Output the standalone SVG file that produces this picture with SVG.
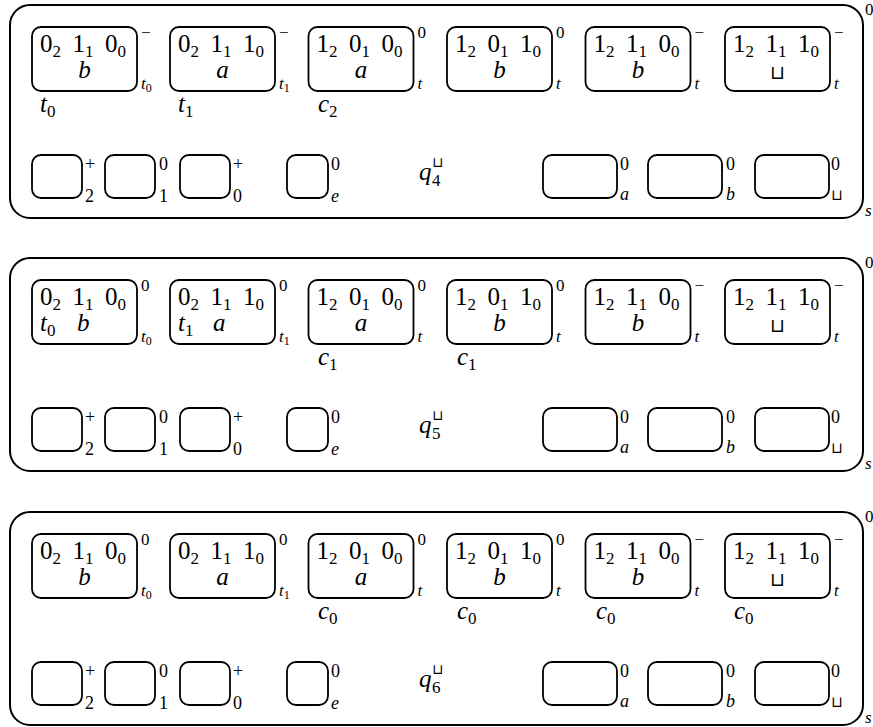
<svg xmlns="http://www.w3.org/2000/svg" width="873" height="727" viewBox="0 0 873 727">
<rect width="873" height="727" fill="#fff"/>
<defs>
<rect id="big" width="105" height="64" rx="9" fill="none" stroke="#000" stroke-width="1.8"/>
<rect id="sm" width="50" height="43" rx="9" fill="none" stroke="#000" stroke-width="1.8"/>
<rect id="sme" width="41" height="43" rx="9" fill="none" stroke="#000" stroke-width="1.8"/>
<rect id="smw" width="74" height="43" rx="9" fill="none" stroke="#000" stroke-width="1.8"/>
<rect id="outer" x="10" y="5" width="853" height="213" rx="20" fill="none" stroke="#000" stroke-width="2"/>
</defs>

<!-- ===================== PANEL 1 ===================== -->
<g id="panel1">
<use href="#outer"/>
<text font-family="Times New Roman" font-size="17" x="865" y="15">0</text>
<text font-family="Times New Roman" font-size="17" font-style="italic" x="865" y="216">s</text>

<g id="p1b1"><use href="#big" x="32" y="27"/>
<text font-family="Times New Roman" font-size="25" y="52"><tspan x="40">0</tspan><tspan font-size="17" dy="5">2</tspan><tspan x="72.5" dy="-5">1</tspan><tspan font-size="17" dy="5">1</tspan><tspan x="105" dy="-5">0</tspan><tspan font-size="17" dy="5">0</tspan></text>
<text font-family="Times New Roman" font-size="25" font-style="italic" x="84.5" y="78" text-anchor="middle">b</text>
<text font-family="Times New Roman" font-size="17" x="141" y="38">−</text>
<text font-family="Times New Roman" font-size="17" font-style="italic" x="141" y="89">t<tspan font-size="12" font-style="normal" dy="3">0</tspan></text>
<text font-family="Times New Roman" font-size="25" font-style="italic" x="40" y="112">t<tspan font-size="17" font-style="normal" dy="5">0</tspan></text></g>

<g id="p1b2"><use href="#big" x="170" y="27"/>
<text font-family="Times New Roman" font-size="25" y="52"><tspan x="178">0</tspan><tspan font-size="17" dy="5">2</tspan><tspan x="210.5" dy="-5">1</tspan><tspan font-size="17" dy="5">1</tspan><tspan x="243" dy="-5">1</tspan><tspan font-size="17" dy="5">0</tspan></text>
<text font-family="Times New Roman" font-size="25" font-style="italic" x="222.5" y="78" text-anchor="middle">a</text>
<text font-family="Times New Roman" font-size="17" x="279" y="38">−</text>
<text font-family="Times New Roman" font-size="17" font-style="italic" x="279" y="89">t<tspan font-size="12" font-style="normal" dy="3">1</tspan></text>
<text font-family="Times New Roman" font-size="25" font-style="italic" x="178" y="112">t<tspan font-size="17" font-style="normal" dy="5">1</tspan></text></g>

<g id="p1b3"><use href="#big" x="308.5" y="27"/>
<text font-family="Times New Roman" font-size="25" y="52"><tspan x="316.5">1</tspan><tspan font-size="17" dy="5">2</tspan><tspan x="349" dy="-5">0</tspan><tspan font-size="17" dy="5">1</tspan><tspan x="381.5" dy="-5">0</tspan><tspan font-size="17" dy="5">0</tspan></text>
<text font-family="Times New Roman" font-size="25" font-style="italic" x="361" y="78" text-anchor="middle">a</text>
<text font-family="Times New Roman" font-size="17" x="417.5" y="38">0</text>
<text font-family="Times New Roman" font-size="17" font-style="italic" x="417.5" y="89">t</text>
<text font-family="Times New Roman" font-size="25" font-style="italic" x="318" y="112">c<tspan font-size="17" font-style="normal" dy="5">2</tspan></text></g>

<g id="p1b4"><use href="#big" x="447" y="27"/>
<text font-family="Times New Roman" font-size="25" y="52"><tspan x="455">1</tspan><tspan font-size="17" dy="5">2</tspan><tspan x="487.5" dy="-5">0</tspan><tspan font-size="17" dy="5">1</tspan><tspan x="520" dy="-5">1</tspan><tspan font-size="17" dy="5">0</tspan></text>
<text font-family="Times New Roman" font-size="25" font-style="italic" x="499.5" y="78" text-anchor="middle">b</text>
<text font-family="Times New Roman" font-size="17" x="556" y="38">0</text>
<text font-family="Times New Roman" font-size="17" font-style="italic" x="556" y="89">t</text></g>

<g id="p1b5"><use href="#big" x="585.5" y="27"/>
<text font-family="Times New Roman" font-size="25" y="52"><tspan x="593.5">1</tspan><tspan font-size="17" dy="5">2</tspan><tspan x="626" dy="-5">1</tspan><tspan font-size="17" dy="5">1</tspan><tspan x="658.5" dy="-5">0</tspan><tspan font-size="17" dy="5">0</tspan></text>
<text font-family="Times New Roman" font-size="25" font-style="italic" x="638" y="78" text-anchor="middle">b</text>
<text font-family="Times New Roman" font-size="17" x="694.5" y="38">−</text>
<text font-family="Times New Roman" font-size="17" font-style="italic" x="694.5" y="89">t</text></g>

<g id="p1b6"><use href="#big" x="725" y="27"/>
<text font-family="Times New Roman" font-size="25" y="52"><tspan x="733">1</tspan><tspan font-size="17" dy="5">2</tspan><tspan x="765.5" dy="-5">1</tspan><tspan font-size="17" dy="5">1</tspan><tspan x="798" dy="-5">1</tspan><tspan font-size="17" dy="5">0</tspan></text>
<text font-family="DejaVu Sans" font-size="19" x="777.5" y="79" text-anchor="middle">⊔</text>
<text font-family="Times New Roman" font-size="17" x="834" y="38">−</text>
<text font-family="Times New Roman" font-size="17" font-style="italic" x="834" y="89">t</text></g>

<g id="p1r"><use href="#sm" x="32" y="155"/><text font-family="Times New Roman" font-size="18" x="85" y="170">+</text><text font-family="Times New Roman" font-size="18" x="85" y="202">2</text>
<use href="#sm" x="105" y="155"/><text font-family="Times New Roman" font-size="18" x="159" y="170">0</text><text font-family="Times New Roman" font-size="18" x="159" y="202">1</text>
<use href="#sm" x="180" y="155"/><text font-family="Times New Roman" font-size="18" x="233" y="170">+</text><text font-family="Times New Roman" font-size="18" x="233" y="202">0</text>
<use href="#sme" x="287" y="155"/><text font-family="Times New Roman" font-size="18" x="331" y="170">0</text><text font-family="Times New Roman" font-size="18" font-style="italic" x="331" y="202">e</text>
<text font-family="Times New Roman" font-size="25" font-style="italic" x="419" y="180">q</text><text font-family="DejaVu Sans" font-size="14" x="432" y="167">⊔</text><text font-family="Times New Roman" font-size="17" x="432" y="186">4</text>
<use href="#smw" x="543" y="155"/><text font-family="Times New Roman" font-size="18" x="620" y="170">0</text><text font-family="Times New Roman" font-size="18" font-style="italic" x="620" y="200">a</text>
<use href="#smw" x="648" y="155"/><text font-family="Times New Roman" font-size="18" x="726" y="170">0</text><text font-family="Times New Roman" font-size="18" font-style="italic" x="726" y="200">b</text>
<use href="#smw" x="755" y="155"/><text font-family="Times New Roman" font-size="18" x="831" y="170">0</text><text font-family="DejaVu Sans" font-size="15" x="831" y="200">⊔</text></g>
</g>

<!-- ===================== PANEL 2 ===================== -->
<g id="panel2" transform="translate(0,253)">
<use href="#outer"/>
<text font-family="Times New Roman" font-size="17" x="865" y="15">0</text>
<text font-family="Times New Roman" font-size="17" font-style="italic" x="865" y="216">s</text>

<g id="p2b1"><use href="#big" x="32" y="27"/>
<text font-family="Times New Roman" font-size="25" y="52"><tspan x="40">0</tspan><tspan font-size="17" dy="5">2</tspan><tspan x="72.5" dy="-5">1</tspan><tspan font-size="17" dy="5">1</tspan><tspan x="105" dy="-5">0</tspan><tspan font-size="17" dy="5">0</tspan></text>
<text font-family="Times New Roman" font-size="25" font-style="italic" x="40" y="78">t<tspan font-size="17" font-style="normal" dy="5">0</tspan></text>
<text font-family="Times New Roman" font-size="25" font-style="italic" x="77" y="78">b</text>
<text font-family="Times New Roman" font-size="17" x="141" y="38">0</text>
<text font-family="Times New Roman" font-size="17" font-style="italic" x="141" y="89">t<tspan font-size="12" font-style="normal" dy="3">0</tspan></text></g>

<g id="p2b2"><use href="#big" x="170" y="27"/>
<text font-family="Times New Roman" font-size="25" y="52"><tspan x="178">0</tspan><tspan font-size="17" dy="5">2</tspan><tspan x="210.5" dy="-5">1</tspan><tspan font-size="17" dy="5">1</tspan><tspan x="243" dy="-5">1</tspan><tspan font-size="17" dy="5">0</tspan></text>
<text font-family="Times New Roman" font-size="25" font-style="italic" x="178" y="78">t<tspan font-size="17" font-style="normal" dy="5">1</tspan></text>
<text font-family="Times New Roman" font-size="25" font-style="italic" x="213" y="78">a</text>
<text font-family="Times New Roman" font-size="17" x="279" y="38">0</text>
<text font-family="Times New Roman" font-size="17" font-style="italic" x="279" y="89">t<tspan font-size="12" font-style="normal" dy="3">1</tspan></text></g>

<g id="p2b3"><use href="#big" x="308.5" y="27"/>
<text font-family="Times New Roman" font-size="25" y="52"><tspan x="316.5">1</tspan><tspan font-size="17" dy="5">2</tspan><tspan x="349" dy="-5">0</tspan><tspan font-size="17" dy="5">1</tspan><tspan x="381.5" dy="-5">0</tspan><tspan font-size="17" dy="5">0</tspan></text>
<text font-family="Times New Roman" font-size="25" font-style="italic" x="361" y="78" text-anchor="middle">a</text>
<text font-family="Times New Roman" font-size="17" x="417.5" y="38">0</text>
<text font-family="Times New Roman" font-size="17" font-style="italic" x="417.5" y="89">t</text>
<text font-family="Times New Roman" font-size="25" font-style="italic" x="318" y="112">c<tspan font-size="17" font-style="normal" dy="5">1</tspan></text></g>

<g id="p2b4"><use href="#big" x="447" y="27"/>
<text font-family="Times New Roman" font-size="25" y="52"><tspan x="455">1</tspan><tspan font-size="17" dy="5">2</tspan><tspan x="487.5" dy="-5">0</tspan><tspan font-size="17" dy="5">1</tspan><tspan x="520" dy="-5">1</tspan><tspan font-size="17" dy="5">0</tspan></text>
<text font-family="Times New Roman" font-size="25" font-style="italic" x="499.5" y="78" text-anchor="middle">b</text>
<text font-family="Times New Roman" font-size="17" x="556" y="38">0</text>
<text font-family="Times New Roman" font-size="17" font-style="italic" x="556" y="89">t</text>
<text font-family="Times New Roman" font-size="25" font-style="italic" x="457" y="112">c<tspan font-size="17" font-style="normal" dy="5">1</tspan></text></g>

<g id="p2b5"><use href="#big" x="585.5" y="27"/>
<text font-family="Times New Roman" font-size="25" y="52"><tspan x="593.5">1</tspan><tspan font-size="17" dy="5">2</tspan><tspan x="626" dy="-5">1</tspan><tspan font-size="17" dy="5">1</tspan><tspan x="658.5" dy="-5">0</tspan><tspan font-size="17" dy="5">0</tspan></text>
<text font-family="Times New Roman" font-size="25" font-style="italic" x="638" y="78" text-anchor="middle">b</text>
<text font-family="Times New Roman" font-size="17" x="694.5" y="38">−</text>
<text font-family="Times New Roman" font-size="17" font-style="italic" x="694.5" y="89">t</text></g>

<g id="p2b6"><use href="#big" x="725" y="27"/>
<text font-family="Times New Roman" font-size="25" y="52"><tspan x="733">1</tspan><tspan font-size="17" dy="5">2</tspan><tspan x="765.5" dy="-5">1</tspan><tspan font-size="17" dy="5">1</tspan><tspan x="798" dy="-5">1</tspan><tspan font-size="17" dy="5">0</tspan></text>
<text font-family="DejaVu Sans" font-size="19" x="777.5" y="79" text-anchor="middle">⊔</text>
<text font-family="Times New Roman" font-size="17" x="834" y="38">−</text>
<text font-family="Times New Roman" font-size="17" font-style="italic" x="834" y="89">t</text></g>

<g id="p2r"><use href="#sm" x="32" y="155"/><text font-family="Times New Roman" font-size="18" x="85" y="170">+</text><text font-family="Times New Roman" font-size="18" x="85" y="202">2</text>
<use href="#sm" x="105" y="155"/><text font-family="Times New Roman" font-size="18" x="159" y="170">0</text><text font-family="Times New Roman" font-size="18" x="159" y="202">1</text>
<use href="#sm" x="180" y="155"/><text font-family="Times New Roman" font-size="18" x="233" y="170">+</text><text font-family="Times New Roman" font-size="18" x="233" y="202">0</text>
<use href="#sme" x="287" y="155"/><text font-family="Times New Roman" font-size="18" x="331" y="170">0</text><text font-family="Times New Roman" font-size="18" font-style="italic" x="331" y="202">e</text>
<text font-family="Times New Roman" font-size="25" font-style="italic" x="419" y="180">q</text><text font-family="DejaVu Sans" font-size="14" x="432" y="167">⊔</text><text font-family="Times New Roman" font-size="17" x="432" y="186">5</text>
<use href="#smw" x="543" y="155"/><text font-family="Times New Roman" font-size="18" x="620" y="170">0</text><text font-family="Times New Roman" font-size="18" font-style="italic" x="620" y="200">a</text>
<use href="#smw" x="648" y="155"/><text font-family="Times New Roman" font-size="18" x="726" y="170">0</text><text font-family="Times New Roman" font-size="18" font-style="italic" x="726" y="200">b</text>
<use href="#smw" x="755" y="155"/><text font-family="Times New Roman" font-size="18" x="831" y="170">0</text><text font-family="DejaVu Sans" font-size="15" x="831" y="200">⊔</text></g>
</g>

<!-- ===================== PANEL 3 ===================== -->
<g id="panel3" transform="translate(0,507)">
<use href="#outer"/>
<text font-family="Times New Roman" font-size="17" x="865" y="15">0</text>
<text font-family="Times New Roman" font-size="17" font-style="italic" x="865" y="216">s</text>

<g id="p3b1"><use href="#big" x="32" y="27"/>
<text font-family="Times New Roman" font-size="25" y="52"><tspan x="40">0</tspan><tspan font-size="17" dy="5">2</tspan><tspan x="72.5" dy="-5">1</tspan><tspan font-size="17" dy="5">1</tspan><tspan x="105" dy="-5">0</tspan><tspan font-size="17" dy="5">0</tspan></text>
<text font-family="Times New Roman" font-size="25" font-style="italic" x="84.5" y="78" text-anchor="middle">b</text>
<text font-family="Times New Roman" font-size="17" x="141" y="38">0</text>
<text font-family="Times New Roman" font-size="17" font-style="italic" x="141" y="89">t<tspan font-size="12" font-style="normal" dy="3">0</tspan></text></g>

<g id="p3b2"><use href="#big" x="170" y="27"/>
<text font-family="Times New Roman" font-size="25" y="52"><tspan x="178">0</tspan><tspan font-size="17" dy="5">2</tspan><tspan x="210.5" dy="-5">1</tspan><tspan font-size="17" dy="5">1</tspan><tspan x="243" dy="-5">1</tspan><tspan font-size="17" dy="5">0</tspan></text>
<text font-family="Times New Roman" font-size="25" font-style="italic" x="222.5" y="78" text-anchor="middle">a</text>
<text font-family="Times New Roman" font-size="17" x="279" y="38">0</text>
<text font-family="Times New Roman" font-size="17" font-style="italic" x="279" y="89">t<tspan font-size="12" font-style="normal" dy="3">1</tspan></text></g>

<g id="p3b3"><use href="#big" x="308.5" y="27"/>
<text font-family="Times New Roman" font-size="25" y="52"><tspan x="316.5">1</tspan><tspan font-size="17" dy="5">2</tspan><tspan x="349" dy="-5">0</tspan><tspan font-size="17" dy="5">1</tspan><tspan x="381.5" dy="-5">0</tspan><tspan font-size="17" dy="5">0</tspan></text>
<text font-family="Times New Roman" font-size="25" font-style="italic" x="361" y="78" text-anchor="middle">a</text>
<text font-family="Times New Roman" font-size="17" x="417.5" y="38">0</text>
<text font-family="Times New Roman" font-size="17" font-style="italic" x="417.5" y="89">t</text>
<text font-family="Times New Roman" font-size="25" font-style="italic" x="318" y="112">c<tspan font-size="17" font-style="normal" dy="5">0</tspan></text></g>

<g id="p3b4"><use href="#big" x="447" y="27"/>
<text font-family="Times New Roman" font-size="25" y="52"><tspan x="455">1</tspan><tspan font-size="17" dy="5">2</tspan><tspan x="487.5" dy="-5">0</tspan><tspan font-size="17" dy="5">1</tspan><tspan x="520" dy="-5">1</tspan><tspan font-size="17" dy="5">0</tspan></text>
<text font-family="Times New Roman" font-size="25" font-style="italic" x="499.5" y="78" text-anchor="middle">b</text>
<text font-family="Times New Roman" font-size="17" x="556" y="38">0</text>
<text font-family="Times New Roman" font-size="17" font-style="italic" x="556" y="89">t</text>
<text font-family="Times New Roman" font-size="25" font-style="italic" x="457" y="112">c<tspan font-size="17" font-style="normal" dy="5">0</tspan></text></g>

<g id="p3b5"><use href="#big" x="585.5" y="27"/>
<text font-family="Times New Roman" font-size="25" y="52"><tspan x="593.5">1</tspan><tspan font-size="17" dy="5">2</tspan><tspan x="626" dy="-5">1</tspan><tspan font-size="17" dy="5">1</tspan><tspan x="658.5" dy="-5">0</tspan><tspan font-size="17" dy="5">0</tspan></text>
<text font-family="Times New Roman" font-size="25" font-style="italic" x="638" y="78" text-anchor="middle">b</text>
<text font-family="Times New Roman" font-size="17" x="694.5" y="38">−</text>
<text font-family="Times New Roman" font-size="17" font-style="italic" x="694.5" y="89">t</text>
<text font-family="Times New Roman" font-size="25" font-style="italic" x="596" y="112">c<tspan font-size="17" font-style="normal" dy="5">0</tspan></text></g>

<g id="p3b6"><use href="#big" x="725" y="27"/>
<text font-family="Times New Roman" font-size="25" y="52"><tspan x="733">1</tspan><tspan font-size="17" dy="5">2</tspan><tspan x="765.5" dy="-5">1</tspan><tspan font-size="17" dy="5">1</tspan><tspan x="798" dy="-5">1</tspan><tspan font-size="17" dy="5">0</tspan></text>
<text font-family="DejaVu Sans" font-size="19" x="777.5" y="79" text-anchor="middle">⊔</text>
<text font-family="Times New Roman" font-size="17" x="834" y="38">−</text>
<text font-family="Times New Roman" font-size="17" font-style="italic" x="834" y="89">t</text>
<text font-family="Times New Roman" font-size="25" font-style="italic" x="734" y="112">c<tspan font-size="17" font-style="normal" dy="5">0</tspan></text></g>

<g id="p3r"><use href="#sm" x="32" y="155"/><text font-family="Times New Roman" font-size="18" x="85" y="170">+</text><text font-family="Times New Roman" font-size="18" x="85" y="202">2</text>
<use href="#sm" x="105" y="155"/><text font-family="Times New Roman" font-size="18" x="159" y="170">0</text><text font-family="Times New Roman" font-size="18" x="159" y="202">1</text>
<use href="#sm" x="180" y="155"/><text font-family="Times New Roman" font-size="18" x="233" y="170">+</text><text font-family="Times New Roman" font-size="18" x="233" y="202">0</text>
<use href="#sme" x="287" y="155"/><text font-family="Times New Roman" font-size="18" x="331" y="170">0</text><text font-family="Times New Roman" font-size="18" font-style="italic" x="331" y="202">e</text>
<text font-family="Times New Roman" font-size="25" font-style="italic" x="419" y="180">q</text><text font-family="DejaVu Sans" font-size="14" x="432" y="167">⊔</text><text font-family="Times New Roman" font-size="17" x="432" y="186">6</text>
<use href="#smw" x="543" y="155"/><text font-family="Times New Roman" font-size="18" x="620" y="170">0</text><text font-family="Times New Roman" font-size="18" font-style="italic" x="620" y="200">a</text>
<use href="#smw" x="648" y="155"/><text font-family="Times New Roman" font-size="18" x="726" y="170">0</text><text font-family="Times New Roman" font-size="18" font-style="italic" x="726" y="200">b</text>
<use href="#smw" x="755" y="155"/><text font-family="Times New Roman" font-size="18" x="831" y="170">0</text><text font-family="DejaVu Sans" font-size="15" x="831" y="200">⊔</text></g>
</g>
</svg>
